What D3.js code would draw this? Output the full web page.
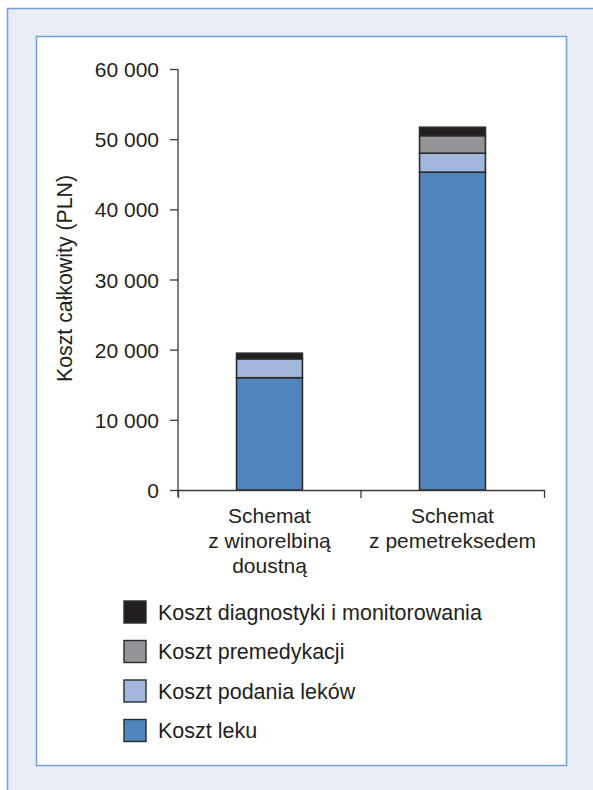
<!DOCTYPE html>
<html lang="pl">
<head>
  <meta charset="UTF-8">
  <title>Koszt całkowity</title>
  <style>
    body { margin: 0; background: #fff; }
    svg { display: block; font-family: "Liberation Sans", Arial, sans-serif; }
    .axis path, .axis line { stroke: #3a3a3a; stroke-width: 1.3; }
    .axis text { font-size: 21px; fill: #231f20; }
    .bar rect { stroke: #2b2b2e; stroke-width: 1.6; }
  </style>
</head>
<body>
  <script src="https://d3js.org/d3.v7.min.js"></script>
  <script>
    // data
    const categories = ['Schemat z winorelbiną doustną', 'Schemat z pemetreksedem'];
    const categoryLines = [['Schemat', 'z winorelbiną', 'doustną'], ['Schemat', 'z pemetreksedem']];
    const seriesNames = ['Koszt leku', 'Koszt podania leków', 'Koszt premedykacji', 'Koszt diagnostyki i monitorowania'];
    const kosztLeku = [16000, 45300];
    const kosztPodania = [2700, 2700];
    const kosztPremedykacji = [0, 2500];
    const kosztDiagnostyki = [800, 1200];
    const yTicks = [0, 10000, 20000, 30000, 40000, 50000, 60000];
    const colors = ['#5185be', '#a1b7dc', '#939598', '#231f20'];

    const W = 593, H = 790;
    const svg = d3.select('body').append('svg').attr('width', W).attr('height', H);

    // frame
    svg.append('rect').attr('x', 7.5).attr('y', 8.5).attr('width', W).attr('height', H)
      .attr('fill', '#e9eef6').attr('stroke', '#72a0d6').attr('stroke-width', 1.5);
    svg.append('rect').attr('x', 36.5).attr('y', 36.5).attr('width', 530).attr('height', 729)
      .attr('fill', '#fff').attr('stroke', '#72a0d6').attr('stroke-width', 1.5);

    const plotLeft = 178, plotRight = 544, plotTop = 69, plotBottom = 490;

    const x = d3.scaleBand().domain(categories).range([plotLeft, plotRight])
      .paddingInner(0.64).paddingOuter(0.32);
    const y = d3.scaleLinear().domain([0, 60000]).range([plotBottom, plotTop]);

    const rows = categories.map((c, i) => ({
      cat: c,
      'Koszt leku': kosztLeku[i],
      'Koszt podania leków': kosztPodania[i],
      'Koszt premedykacji': kosztPremedykacji[i],
      'Koszt diagnostyki i monitorowania': kosztDiagnostyki[i]
    }));
    const stacked = d3.stack().keys(seriesNames)(rows);

    svg.selectAll('g.bar')
      .data(stacked)
      .join('g')
      .attr('class', 'bar')
      .attr('fill', (d, i) => colors[i])
      .selectAll('rect')
      .data(d => d.filter(s => s[1] - s[0] > 0))
      .join('rect')
      .attr('x', d => x(d.data.cat))
      .attr('width', x.bandwidth())
      .attr('y', d => y(d[1]))
      .attr('height', d => y(d[0]) - y(d[1]));

    // y axis
    const fmt = v => v === 0 ? '0' : d3.format(',')(v).replace(/,/g, ' ');
    const yAxis = svg.append('g').attr('class', 'axis')
      .attr('transform', `translate(${plotLeft},0)`)
      .call(d3.axisLeft(y).tickValues(yTicks).tickFormat(fmt).tickSizeInner(8).tickSizeOuter(0).tickPadding(11));
    yAxis.select('.domain').remove();
    yAxis.append('line').attr('x1', 0).attr('x2', 0).attr('y1', plotTop).attr('y2', plotBottom + 7);
    yAxis.selectAll('.tick text').attr('dy', '0.36em');

    // x axis
    const xAxis = svg.append('g').attr('class', 'axis')
      .attr('transform', `translate(0,${plotBottom})`)
      .call(d3.axisBottom(x).tickSizeInner(0).tickSizeOuter(8).tickFormat(''));
    const mid = x(categories[1]) - x.step() * x.paddingInner() / 2;
    xAxis.append('line').attr('x1', mid).attr('x2', mid).attr('y1', 0).attr('y2', 8);

    // category labels
    categories.forEach((c, i) => {
      const t = svg.append('text')
        .attr('text-anchor', 'middle')
        .attr('font-size', 21)
        .attr('fill', '#231f20');
      categoryLines[i].forEach((line, j) => {
        t.append('tspan').attr('x', x(c) + x.bandwidth() / 2).attr('y', 523 + j * 25).text(line);
      });
    });

    // y title
    svg.append('text')
      .attr('transform', `translate(72,${(plotTop + plotBottom) / 2 - 1}) rotate(-90)`)
      .attr('text-anchor', 'middle')
      .attr('font-size', 21.3)
      .attr('fill', '#231f20')
      .text('Koszt całkowity (PLN)');

    // legend (top to bottom reversed stack order)
    const legendOrder = seriesNames.slice().reverse();
    const legend = svg.append('g').selectAll('g')
      .data(legendOrder)
      .join('g')
      .attr('transform', (d, i) => `translate(124,${601 + i * 39.5})`);
    legend.append('rect')
      .attr('width', 22).attr('height', 22)
      .attr('fill', d => colors[seriesNames.indexOf(d)])
      .attr('stroke', '#2b2b2e').attr('stroke-width', 1.4);
    legend.append('text')
      .attr('x', 34).attr('y', 11).attr('dy', '0.36em')
      .attr('font-size', 21.5)
      .attr('fill', '#231f20')
      .text(d => d);
  </script>
</body>
</html>
